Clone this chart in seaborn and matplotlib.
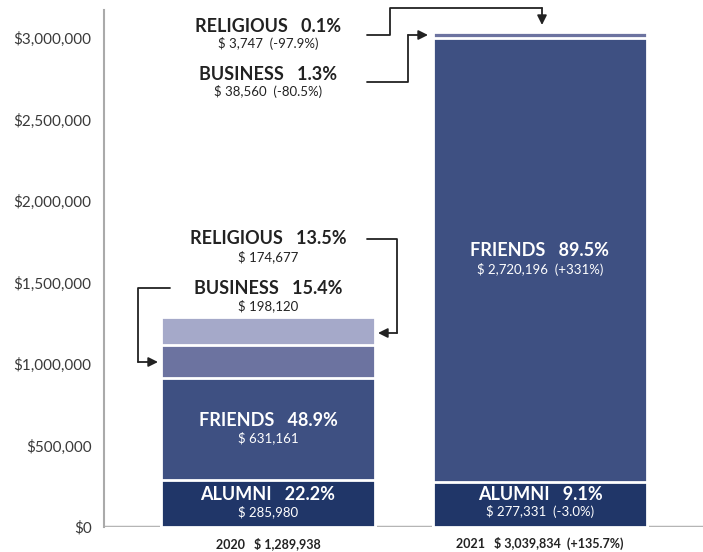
import matplotlib
matplotlib.use("Agg")
import matplotlib.pyplot as plt
import seaborn as sns
import pandas as pd
import numpy as np
from matplotlib.lines import Line2D
from matplotlib.patches import FancyArrowPatch
from matplotlib.ticker import FuncFormatter

# ---- data ----
years = ["2020", "2021"]
alumni = [285980, 277331]
friends = [631161, 2720196]
business = [198120, 38560]
religious = [174677, 3747]
totals = [1289938, 3039834]
year_labels = ["2020   $ 1,289,938", "2021   $ 3,039,834  (+135.7%)"]
alumni_pct = ["22.2%", "9.1%"]
friends_pct = ["48.9%", "89.5%"]
business_pct = ["15.4%", "1.3%"]
religious_pct = ["13.5%", "0.1%"]
alumni_sub = ["$ 285,980", "$ 277,331  (-3.0%)"]
friends_sub = ["$ 631,161", "$ 2,720,196  (+331%)"]
business_sub = ["$ 198,120", "$ 38,560  (-80.5%)"]
religious_sub = ["$ 174,677", "$ 3,747  (-97.9%)"]
yticks = [0, 500000, 1000000, 1500000, 2000000, 2500000, 3000000]

col_alumni = "#203668"
col_friends = "#3e5082"
col_business = "#6c73a0"
col_religious = "#a5a9c9"

sns.set_theme(style="white")
plt.rcParams["font.family"] = ["Lato", "DejaVu Sans"]

W, H = 703, 552
fig = plt.figure(figsize=(W / 100, H / 100), dpi=100)
ax = fig.add_axes([104 / W, 25 / H, (W - 104) / W, (527 - 10) / H])

df = pd.DataFrame({
    "year": years,
    "c1": np.array(alumni),
    "c2": np.array(alumni) + np.array(friends),
    "c3": np.array(alumni) + np.array(friends) + np.array(business),
    "c4": np.array(alumni) + np.array(friends) + np.array(business) + np.array(religious),
})

ax.axhline(0, color="#b5b5b5", lw=2.5, zorder=0)

for col, c in [("c4", col_religious), ("c3", col_business), ("c2", col_friends), ("c1", col_alumni)]:
    sns.barplot(data=df, x="year", y=col, color=c, width=0.787, edgecolor="white",
                linewidth=2, errorbar=None, ax=ax, saturation=1, zorder=2)

ax.set_xlim(-0.603, 1.6)
ax.set_ylim(0, 3.172e6)
ax.set_yticks(yticks)
ax.yaxis.set_major_formatter(FuncFormatter(lambda v, p: "${:,.0f}".format(v)))
ax.tick_params(axis="y", length=0, pad=9, labelsize=11, labelcolor="#3a3a3a")
ax.set_xticks([0, 1])
ax.set_xticklabels(year_labels, fontsize=9, fontweight="bold", color="#222222")
ax.tick_params(axis="x", length=0, pad=7)
ax.set_xlabel("")
ax.set_ylabel("")
for s in ["top", "right", "bottom"]:
    ax.spines[s].set_visible(False)
ax.spines["left"].set_color("#aaaaaa")
ax.spines["left"].set_linewidth(1.5)


def fx(px):
    return px / W


def fy(py):
    return 1 - py / H


def label(cx, cy, title, sub, color, dy=17):
    fig.text(fx(cx), fy(cy), title, ha="center", va="center", fontsize=13,
             fontweight="bold", color=color)
    fig.text(fx(cx), fy(cy + dy), sub, ha="center", va="center", fontsize=9.5,
             color=color)


dark = "#222222"
# inside-bar labels
label(268, 420, "FRIENDS   " + friends_pct[0], friends_sub[0], "white", 18)
label(268, 494, "ALUMNI   " + alumni_pct[0], alumni_sub[0], "white", 18)
label(540, 251, "FRIENDS   " + friends_pct[1], friends_sub[1], "white", 18)
label(540, 494, "ALUMNI   " + alumni_pct[1], alumni_sub[1], "white", 18)
# outside labels
label(268, 239, "RELIGIOUS   " + religious_pct[0], religious_sub[0], dark, 18)
label(268, 288, "BUSINESS   " + business_pct[0], business_sub[0], dark, 18)
label(268, 26, "RELIGIOUS   " + religious_pct[1], religious_sub[1], dark, 18)
label(268, 75, "BUSINESS   " + business_pct[1], business_sub[1], dark, 17)


def connector(points):
    xs = [fx(p[0]) for p in points[:-1]]
    ys = [fy(p[1]) for p in points[:-1]]
    fig.add_artist(Line2D(xs, ys, color=dark, lw=1.3, transform=fig.transFigure))
    fig.add_artist(FancyArrowPatch(
        (fx(points[-2][0]), fy(points[-2][1])), (fx(points[-1][0]), fy(points[-1][1])),
        transform=fig.transFigure, arrowstyle="-|>", mutation_scale=14,
        color=dark, lw=1.3, shrinkA=0, shrinkB=0))


connector([(367, 35), (390, 35), (390, 8), (542, 8), (542, 25)])
connector([(367, 82), (408, 82), (408, 35), (428, 35)])
connector([(367, 239), (397, 239), (397, 333), (378, 333)])
connector([(170, 288), (138, 288), (138, 362), (158, 362)])

fig.savefig("out.png", dpi=100)
